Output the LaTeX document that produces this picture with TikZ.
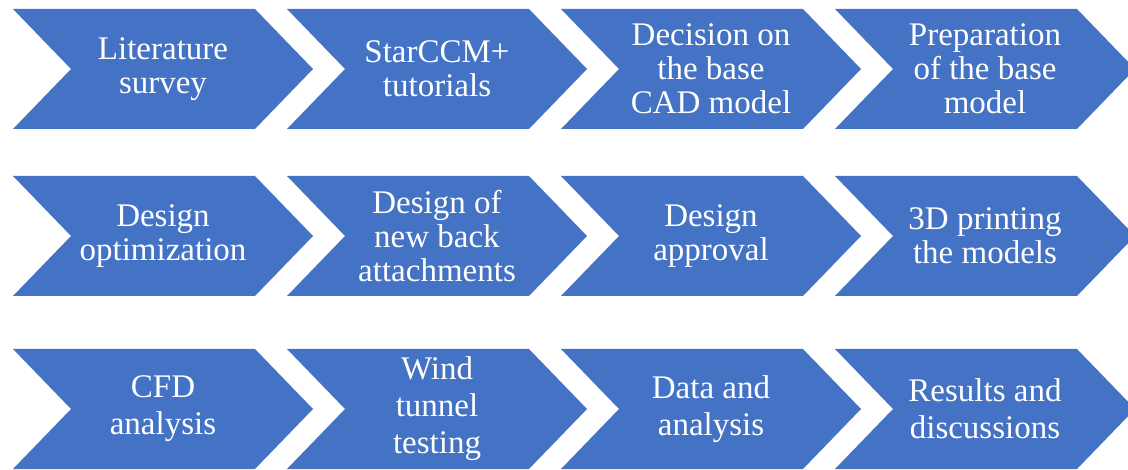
\documentclass[tikz,border=0pt]{standalone}
\usepackage{fontspec}
\setmainfont{Liberation Serif}
\newfontfamily\stepfont{Liberation Serif}
\usepackage{xcolor}
\definecolor{stepblue}{HTML}{4472C4}

\tikzset{
  steplabel/.style={text=white, align=center, inner sep=0pt,
    font=\stepfont\fontsize{33}{34}\selectfont},
  steplabel loose/.style={steplabel, font=\stepfont\fontsize{33}{37}\selectfont}
}

% chevron: #1 node name, #2 left x, #3 centre y, #4 label style, #5 label
\newcommand{\stepchevron}[5]{%
  \fill[stepblue] (#2,#3+60) -- ++(242,0) -- ++(58,-60) -- ++(-58,-60)
    -- ++(-242,0) -- ++(58,60) -- cycle;
  \node[#4] (#1) at (#2+150,#3) {#5};
}

\begin{document}
\begin{tikzpicture}[x=1pt, y=1pt]
  \useasboundingbox (0,0) rectangle (1128,469);
  \clip (0,0) rectangle (1128,469);

  % ---------------- first row ----------------
  \stepchevron{lit}{13}{400}{steplabel}{Literature\\survey}
  \stepchevron{tut}{287}{400}{steplabel}{StarCCM+\\tutorials}
  \stepchevron{cad}{561}{400}{steplabel}{Decision on\\the base\\CAD model}
  \stepchevron{prep}{835}{400}{steplabel}{Preparation\\of the base\\model}

  % ---------------- second row ----------------
  \stepchevron{opt}{13}{233}{steplabel}{Design\\optimization}
  \stepchevron{back}{287}{233}{steplabel}{Design of\\new back\\attachments}
  \stepchevron{appr}{561}{233}{steplabel}{Design\\approval}
  \stepchevron{print}{835}{233}{steplabel}{3D printing\\the models}

  % ---------------- third row ----------------
  \stepchevron{cfd}{13}{60}{steplabel loose}{CFD\\analysis}
  \stepchevron{wind}{287}{60}{steplabel loose}{Wind\\tunnel\\testing}
  \stepchevron{data}{561}{60}{steplabel loose}{Data and\\analysis}
  \stepchevron{res}{835}{60}{steplabel loose}{Results and\\discussions}
\end{tikzpicture}
\end{document}
